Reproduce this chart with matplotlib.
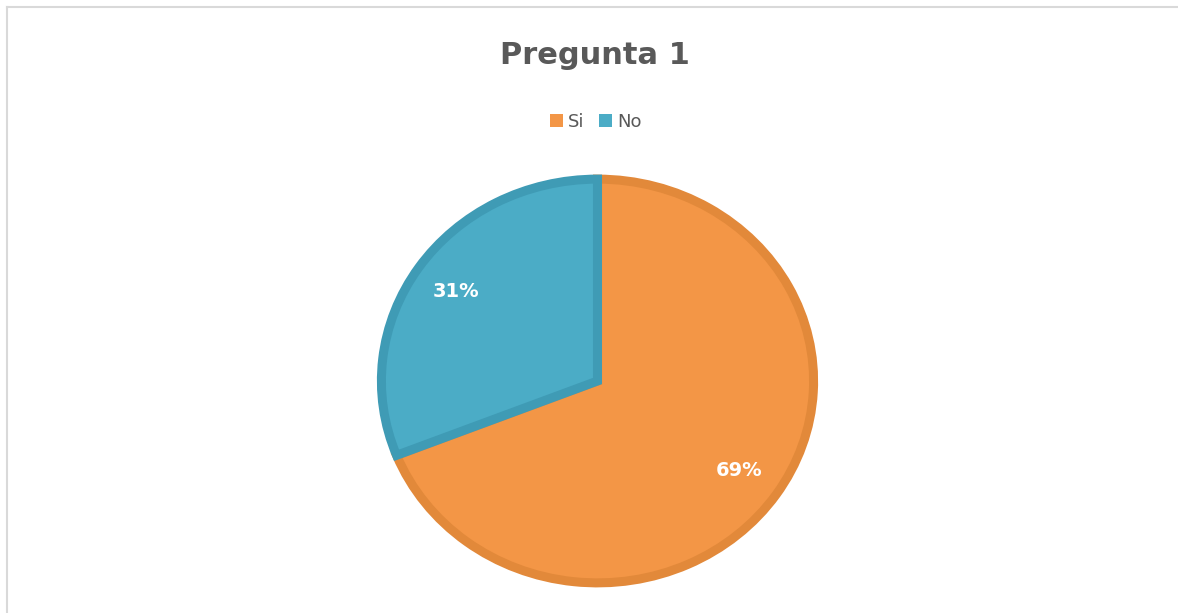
import matplotlib.pyplot as plt
from matplotlib.lines import Line2D
from matplotlib.patches import Patch

labels = ['Si', 'No']
values = [69, 31]
colors = ['#F39646', '#4BACC6']
edge_colors = ['#E2893A', '#3F9BB5']

fig = plt.figure(figsize=(11.78, 6.13), dpi=100)

# marco gris claro del gráfico
W, H = 1178, 613
fig.add_artist(Line2D([7 / W, 1177 / W], [1 - 7 / H, 1 - 7 / H],
                      transform=fig.transFigure, color='#D9D9D9', lw=1.5))
fig.add_artist(Line2D([7 / W, 7 / W], [1 - 7 / H, 0],
                      transform=fig.transFigure, color='#D9D9D9', lw=1.5))

ax = fig.add_axes([377 / W, 26 / H, 441 / W, 412 / H])
wedges, texts, autotexts = ax.pie(values, colors=colors, startangle=90,
                                  counterclock=False, radius=0.98,
                                  autopct='%1.0f%%', pctdistance=0.79,
                                  wedgeprops=dict(linewidth=6.5))
for w, ec in zip(wedges, edge_colors):
    w.set_edgecolor(ec)
for t in autotexts:
    t.set_color('white')
    t.set_fontweight('bold')
    t.set_fontsize(14)
ax.set_aspect('auto')
ax.set_xlim(-1, 1)
ax.set_ylim(-1, 1)
ax.axis('off')

fig.text(0.505, 1 - 55 / H, 'Pregunta 1', ha='center', va='center',
         fontsize=22, fontweight='bold', color='#595959')

handles = [Patch(facecolor=c, edgecolor='none') for c in colors]
fig.legend(handles, labels, loc='center', bbox_to_anchor=(0.506, 1 - 122 / H),
           ncol=2, frameon=False, fontsize=13, handlelength=0.7,
           handleheight=0.7, handletextpad=0.3, columnspacing=0.8,
           labelcolor='#595959')

fig.savefig('out.png', dpi=100)
